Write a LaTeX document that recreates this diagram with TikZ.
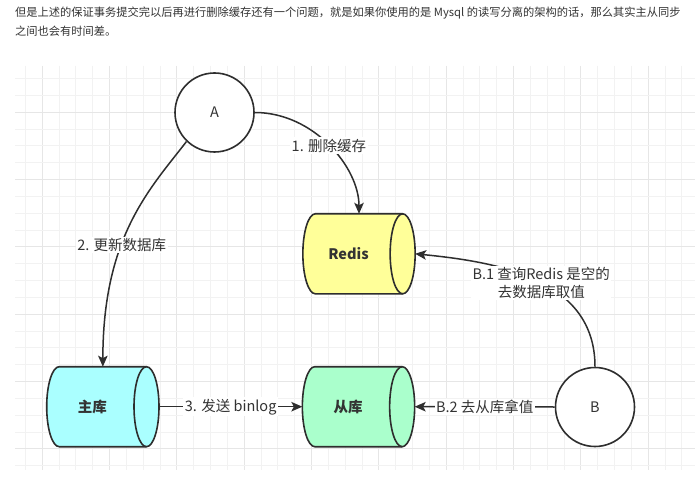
\documentclass[tikz,border=0pt]{standalone}
\usepackage{fontspec}
\setmainfont{Noto Sans CJK SC}
\usetikzlibrary{arrows.meta,calc}
\definecolor{ink}{HTML}{333333}
\definecolor{lineink}{HTML}{2E2E2E}
\definecolor{gridminor}{HTML}{F2F2F2}
\definecolor{gridmajor}{HTML}{E6E6E6}
\definecolor{redisfill}{HTML}{FFFF99}
\definecolor{zhufill}{HTML}{AAFFFF}
\definecolor{congfill}{HTML}{AAFFCC}
\tikzset{
  dbbox/.style={rectangle, draw=none, inner sep=0pt, outer sep=0pt, minimum width=112.3pt, minimum height=80pt},
  dbline/.style={draw=lineink, line width=1.6pt},
  dbtext/.style={text=ink, font=\fontsize{14.5pt}{17pt}\selectfont\bfseries, inner sep=0pt},
  circ/.style={circle, draw=lineink, line width=1.6pt, fill=white, minimum size=79pt, inner sep=0pt, text=ink, font=\fontsize{14.5pt}{17pt}\selectfont},
  conn/.style={draw=lineink, line width=1.5pt, -{Stealth[length=11pt, width=9.5pt, inset=2.5pt]}},
  lbl/.style={fill=white, text=ink, inner sep=1.5pt, font=\fontsize{14.5pt}{17.7pt}\selectfont},
  toptext/.style={anchor=west, text=ink, inner sep=0pt, font=\fontsize{11.25pt}{14pt}\selectfont}
}
\newcommand\dbcylinder[2]{%
  \filldraw[dbline, fill=#2] ($(#1.north east)+(-12.5pt,0)$) -- ($(#1.north west)+(12.5pt,0)$)
     arc[start angle=90, end angle=270, x radius=12.5pt, y radius=40pt]
     -- ($(#1.south east)+(-12.5pt,0)$)
     arc[start angle=-90, end angle=90, x radius=12.5pt, y radius=40pt] -- cycle;
  \draw[dbline] ($(#1.south east)+(-12.5pt,0)$) arc[start angle=-90, end angle=-270, x radius=12.5pt, y radius=40pt];
}
\begin{document}
\begin{tikzpicture}[x=1pt,y=-1pt]
\useasboundingbox (0,0) rectangle (695,478);
\fill[white] (0,0) rectangle (695,478);
% grid
\foreach \k in {-1,...,38}{
  \pgfmathtruncatemacro\m{mod(\k+40,4)}
  \pgfmathsetmacro\xx{42.33+16.833*\k}
  \ifnum\m=0
    \draw[gridmajor, line width=1pt] (\xx,66) -- (\xx,470);
  \else
    \draw[gridminor, line width=1pt] (\xx,66) -- (\xx,470);
  \fi
}
\foreach \k in {-2,...,21}{
  \pgfmathtruncatemacro\m{mod(\k+40,4)}
  \pgfmathsetmacro\yy{112.33+16.833*\k}
  \ifnum\m=0
    \draw[gridmajor, line width=1pt] (15,\yy) -- (695,\yy);
  \else
    \draw[gridminor, line width=1pt] (15,\yy) -- (695,\yy);
  \fi
}
% top paragraph
\node[toptext] (t1) at (15,13.5) {但是上述的保证事务提交完以后再进行删除缓存还有一个问题，就是如果你使用的是 Mysql 的读写分离的架构的话，那么其实主从同步};
\node[toptext] (t2) at (15,31.5) {之间也会有时间差。};
% cylinders
\node[dbbox] (redis) at (359,253.8) {};
\node[dbbox] (zhu) at (102.85,406.7) {};
\node[dbbox] (cong) at (358.5,406.7) {};
\dbcylinder{redis}{redisfill}
\dbcylinder{zhu}{zhufill}
\dbcylinder{cong}{congfill}
\node[dbtext] (redisL) at ($(redis.center)+(-10.5pt,0)$) {Redis};
\node[dbtext] (zhuL) at ($(zhu.center)+(-10.5pt,0)$) {主库};
\node[dbtext] (congL) at ($(cong.center)+(-10.5pt,0)$) {从库};
% circles
\node[circ] (A) at (214.5,112.5) {A};
\node[circ] (B) at (595,407) {B};
% connectors
\draw[conn] (A.east) .. controls +(58.7,0) and +(0,-46.7) .. (redis.north) node[lbl, pos=0.5] (l1) {1. 删除缓存};
\draw[conn] (A.226) .. controls +(-36.6,47.4) and +(0,-130) .. (zhu.north) node[lbl, pos=0.6] (l2) {2. 更新数据库};
\draw[conn] (zhu.east) -- node[lbl] (l3) {3. 发送 binlog} (cong.west);
\draw[conn] (B.north) .. controls +(0,-89) and +(80,8) .. (redis.east) node[lbl, pos=0.47, align=center] (lb1) {B.1 查询Redis 是空的\\去数据库取值};
\draw[conn] (B.west) -- node[lbl] (lb2) {B.2 去从库拿值} (cong.east);
\end{tikzpicture}
\end{document}
